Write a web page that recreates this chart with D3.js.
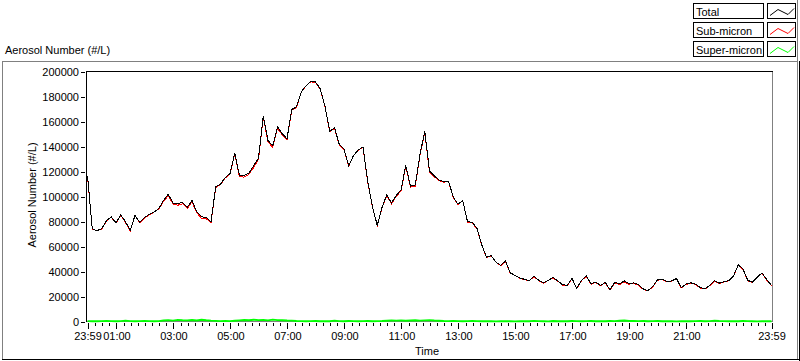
<!DOCTYPE html>
<html lang="en">
<head>
<meta charset="UTF-8">
<title>Aerosol Number</title>
<script src="https://cdn.jsdelivr.net/npm/d3@7"></script>
<style>
    body{ margin:0; background:#fff; }
    svg{ display:block; font-family:"Liberation Sans", Arial, sans-serif; font-size:11px; }
    .crisp{ shape-rendering:crispEdges; }
    .axis path{ display:none; }
    .axis line{ stroke:#000; shape-rendering:crispEdges; }
    .axis text{ fill:#000; font-size:11px; font-family:"Liberation Sans", Arial, sans-serif; }
    .series{ fill:none; stroke-width:1; shape-rendering:crispEdges; }
    .series.smooth{ shape-rendering:geometricPrecision; stroke-width:1.8; }
</style>
</head>
<body>
<script>
    var width = 800;
    var height = 361;

    // samples every 10 minutes, 23:59 -> 23:59 next day
    var startTime = new Date(2000, 0, 1, 23, 59);
    var endTime = new Date(2000, 0, 2, 23, 59);
    var stepMinutes = 10;

    var total = [117000, 74400, 72800, 74500, 80800, 84000, 79000, 85500, 80000, 73000,
        85000, 79500, 83500, 85800, 87800, 90500, 97000, 102000, 95000, 94500,
        95400, 91500, 97000, 88000, 84000, 83400, 80000, 108000, 110000, 115500,
        118500, 135000, 116800, 117000, 119000, 125000, 131000, 165000, 145000, 141000,
        156000, 150500, 146500, 170000, 172000, 184000, 189000, 192500, 192000, 186500,
        172500, 152500, 155400, 142000, 138100, 125000, 133000, 137500, 140000, 112000,
        92000, 77000, 91400, 101500, 95000, 101000, 105500, 125000, 108500, 109500,
        134000, 152500, 120800, 116800, 113500, 112000, 112500, 99800, 94000, 97000,
        80000, 79500, 74500, 61500, 51500, 52800, 47600, 45000, 48500, 39000,
        37000, 35000, 33800, 32800, 36500, 33000, 31000, 33000, 35300, 32500,
        29500, 29000, 34500, 26500, 33000, 36500, 30300, 31500, 29000, 31300,
        25500, 31400, 30100, 32600, 30300, 31000, 29500, 26100, 24800, 28000,
        33500, 33800, 32000, 32500, 34500, 27000, 30000, 31000, 30000, 27300,
        26300, 29000, 32800, 30800, 32000, 32800, 36500, 45500, 42000, 33000,
        31500, 35500, 39000, 33500, 29000];

    var subMicron = [116700, 74200, 72600, 74200, 80400, 83700, 78800, 85200, 79300, 72700,
        84800, 79200, 83100, 85500, 87600, 90200, 96200, 100900, 94300, 93200,
        94400, 90600, 95800, 87200, 82600, 82400, 79300, 107500, 109700, 115100,
        118200, 134400, 115900, 115800, 118000, 123600, 129900, 163700, 144100, 139500,
        154900, 149500, 145700, 169300, 171600, 183700, 188800, 192200, 191600, 186300,
        172200, 152300, 154700, 141700, 137900, 124600, 132700, 137300, 139700, 111600,
        91800, 76700, 91000, 100900, 94200, 100300, 104600, 124400, 107700, 108500,
        133300, 151600, 119700, 116000, 112900, 111600, 112200, 99400, 93700, 96800,
        79700, 79100, 74200, 61300, 51200, 52600, 47500, 44800, 48200, 38800,
        36900, 34800, 33500, 32600, 36000, 32700, 30800, 32900, 34900, 32300,
        29200, 28800, 34100, 26200, 32800, 36200, 29900, 31300, 28700, 31100,
        25100, 31100, 29500, 31800, 29900, 30500, 29200, 25700, 24600, 27700,
        33100, 33600, 31700, 32300, 34400, 26800, 29700, 30800, 29700, 26900,
        26100, 28700, 32100, 30400, 31700, 32600, 36200, 45300, 41600, 32700,
        31300, 35400, 38800, 33200, 28800];

    var superMicron = [300, 200, 200, 300, 400, 300, 200, 300, 700, 300,
        200, 300, 400, 300, 200, 300, 800, 1100, 700, 1300,
        1000, 900, 1200, 800, 1400, 1000, 700, 500, 300, 400,
        300, 600, 900, 1200, 1000, 1400, 1100, 1300, 900, 1500,
        1100, 1000, 800, 700, 400, 300, 200, 300, 400, 200,
        300, 200, 700, 300, 200, 400, 300, 200, 300, 400,
        200, 300, 400, 600, 800, 700, 900, 600, 800, 1000,
        700, 900, 1100, 800, 600, 400, 300, 400, 300, 200,
        300, 400, 300, 200, 300, 200, 100, 200, 300, 200,
        100, 200, 300, 200, 500, 300, 200, 100, 400, 200,
        300, 200, 400, 300, 200, 300, 400, 200, 300, 200,
        400, 300, 600, 800, 400, 500, 300, 400, 200, 300,
        400, 200, 300, 200, 100, 200, 300, 200, 300, 400,
        200, 300, 700, 400, 300, 200, 300, 200, 400, 300,
        200, 100, 200, 300, 200];

    var yTicks = [0, 20000, 40000, 60000, 80000, 100000, 120000, 140000, 160000, 180000, 200000];
    var xTickLabels = ["23:59", "01:00", "03:00", "05:00", "07:00", "09:00", "11:00",
        "13:00", "15:00", "17:00", "19:00", "21:00", "23:59"];

    var seriesNames = ["Total", "Sub-micron", "Super-micron"];
    var seriesColors = ["#000000", "#ff0000", "#00ff00"];

    var times = total.map(function(d, i){
        return d3.timeMinute.offset(startTime, i * stepMinutes);
    });

    // label text -> time (first label is the start day, the rest the next day)
    var parseHM = d3.timeParse("%H:%M");
    var xTickTimes = xTickLabels.map(function(s, i){
        var t = parseHM(s);
        return new Date(2000, 0, i === 0 ? 1 : 2, t.getHours(), t.getMinutes());
    });

    var plot = {left:86.5, right:772.5, top:71.5, bottom:321.5};

    var svg = d3.select("body")
            .append("svg")
            .attr("width", width)
            .attr("height", height);

    //比例尺
    var xScale = d3.scaleTime()
            .domain([startTime, endTime])
            .range([87.5, 771.5]);

    var yScale = d3.scaleLinear()
            .domain([0, 200000])
            .range([321.5, 72]);

    // outer panel edges
    svg.append("line").attr("class", "crisp")
            .attr("x1", 2).attr("x2", 798).attr("y1", 61.5).attr("y2", 61.5)
            .attr("stroke", "#808080");
    svg.append("line").attr("class", "crisp")
            .attr("x1", 2.5).attr("x2", 2.5).attr("y1", 61).attr("y2", 360)
            .attr("stroke", "#808080");
    svg.append("line").attr("class", "crisp")
            .attr("x1", 797.5).attr("x2", 797.5).attr("y1", 0).attr("y2", 359)
            .attr("stroke", "#808080");
    svg.append("line").attr("class", "crisp")
            .attr("x1", 799.5).attr("x2", 799.5).attr("y1", 61).attr("y2", 361)
            .attr("stroke", "#000");
    svg.append("line").attr("class", "crisp")
            .attr("x1", 2).attr("x2", 800).attr("y1", 359.5).attr("y2", 359.5)
            .attr("stroke", "#000");

    // plot frame: dark top/left, grey right/bottom
    svg.append("path").attr("class", "crisp")
            .attr("d", "M" + plot.left + "," + plot.bottom + "V" + plot.top + "H" + plot.right)
            .attr("fill", "none").attr("stroke", "#000");
    svg.append("path").attr("class", "crisp")
            .attr("d", "M" + plot.right + "," + plot.top + "V" + plot.bottom + "H" + plot.left)
            .attr("fill", "none").attr("stroke", "#808080");

    //坐标轴
    var yAxis = d3.axisLeft(yScale)
            .tickValues(yTicks)
            .tickSize(4)
            .tickPadding(2)
            .tickFormat(d3.format("d"));

    svg.append("g")
            .attr("class", "axis")
            .attr("transform", "translate(85,0)")
            .call(yAxis);

    var xMinor = d3.axisBottom(xScale)
            .tickValues(d3.timeMinute.every(15).range(startTime, endTime))
            .tickSize(3)
            .tickFormat("");

    svg.append("g")
            .attr("class", "axis")
            .attr("transform", "translate(0,323)")
            .call(xMinor);

    var xMajor = d3.axisBottom(xScale)
            .tickValues(xTickTimes)
            .tickSize(6)
            .tickPadding(3)
            .tickFormat(function(d, i){ return xTickLabels[i]; });

    svg.append("g")
            .attr("class", "axis")
            .attr("transform", "translate(0,323)")
            .call(xMajor);

    // series
    var line = d3.line()
            .x(function(d, i){ return xScale(times[i]); })
            .y(function(d){ return yScale(d); });

    var seriesData = [total, subMicron, superMicron];
    var drawOrder = [2, 1, 0];
    drawOrder.forEach(function(k){
        svg.append("path")
                .attr("class", k === 2 ? "series smooth" : "series")
                .attr("stroke", seriesColors[k])
                .attr("d", line(seriesData[k]));
    });

    // titles
    svg.append("text")
            .attr("x", 5).attr("y", 54)
            .text("Aerosol Number (#/L)");

    svg.append("text")
            .attr("transform", "translate(36,195) rotate(-90)")
            .attr("text-anchor", "middle")
            .text("Aerosol Number (#/L)");

    svg.append("text")
            .attr("x", 427).attr("y", 355)
            .attr("text-anchor", "middle")
            .text("Time");

    // legend
    var sample = d3.line()([[3, 12], [11, 6], [16, 8.5], [21, 11], [27, 5]]);
    var legend = svg.selectAll(".legend")
            .data(seriesNames)
            .enter()
            .append("g")
            .attr("class", "legend")
            .attr("transform", function(d, i){ return "translate(0," + (3.5 + i * 19) + ")"; });

    legend.append("rect").attr("class", "crisp")
            .attr("x", 693.5).attr("y", 0).attr("width", 70).attr("height", 15)
            .attr("fill", "#fff").attr("stroke", "#000");
    legend.append("text")
            .attr("x", 696).attr("y", 12)
            .text(function(d){ return d; });
    legend.append("rect").attr("class", "crisp")
            .attr("x", 767.5).attr("y", 0).attr("width", 28).attr("height", 15)
            .attr("fill", "#fff").attr("stroke", "#000");
    legend.append("path")
            .attr("transform", "translate(767,0)")
            .attr("d", sample)
            .attr("fill", "none")
            .attr("stroke", function(d, i){ return seriesColors[i]; });
</script>
</body>
</html>
